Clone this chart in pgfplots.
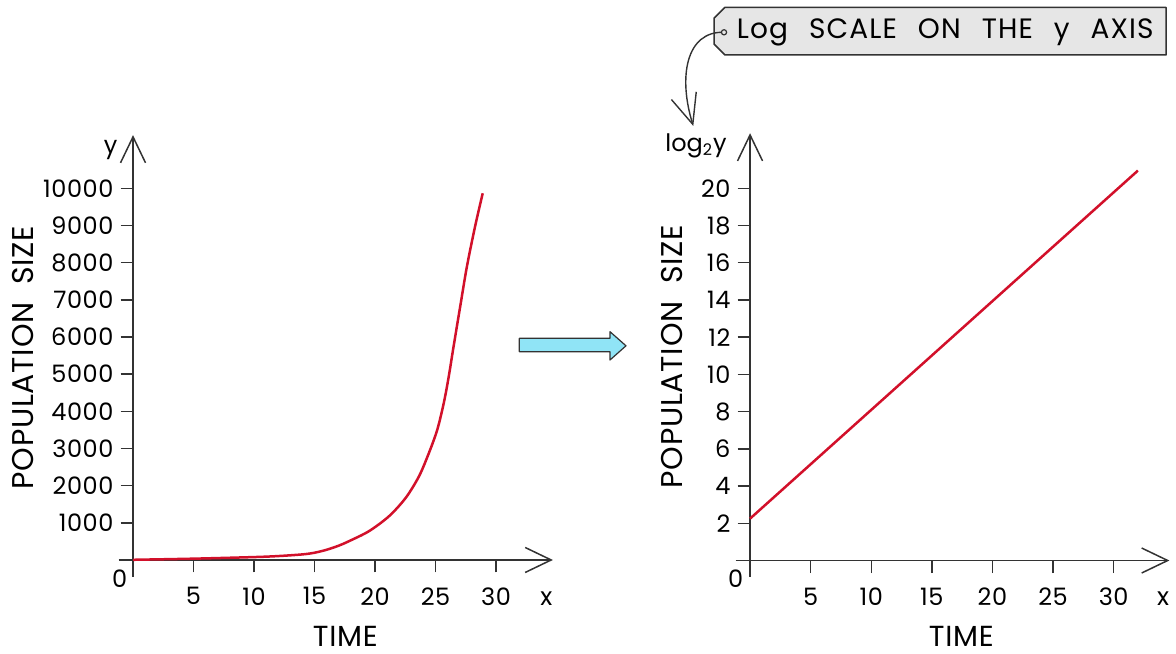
\documentclass[border=0pt]{standalone}
\usepackage{fontspec}
\setmainfont{Poppins}
\newfontfamily\wideA{Poppins}[LetterSpace=4]
\newfontfamily\wideB{Poppins}[LetterSpace=2.5]
\usepackage{pgfplots}
\pgfplotsset{compat=1.18}
\usetikzlibrary{arrows.meta}
\definecolor{axisgray}{HTML}{333333}
\definecolor{curvered}{HTML}{D2102A}
\definecolor{arrowblue}{HTML}{90E4F6}
\definecolor{boxgray}{HTML}{E6E6E6}
\pgfplotsset{
 myaxis/.style={
  scale only axis,
  axis lines=middle,
  axis line style={draw=axisgray, line width=0.75pt, -{Straight Barb[length=13pt,width=12.5pt,line width=0.75pt]}},
  tick style={draw=axisgray, line width=0.75pt},
  tick align=outside,
  major tick length=6.25pt,
  tick label style={font=\wideB\fontsize{12}{14}\selectfont, text=black},
  xticklabel style={yshift=-4pt},
  /pgf/number format/assume math mode=true,
  /pgf/number format/1000 sep={},
  scaled ticks=false,
  clip=false,
  anchor=south west,
 }
}
\begin{document}
\begin{tikzpicture}
\useasboundingbox (0,0) rectangle (588pt,326.5pt);
% left panel
\begin{axis}[myaxis, at={(59.25pt,38.15pt)}, width=217.2pt, height=220.8pt,
  xmin=-1.2, xmax=34.7, ymin=-450, ymax=11430,
  xtick={5,10,15,20,25,30}, ytick={1000,2000,3000,4000,5000,6000,7000,8000,9000,10000}]
\addplot[curvered, line width=1.25pt, smooth, tension=0.5] coordinates {
(0,5)(5,35)(10,78)(12,105)(14,150)(15,195)(16,275)(17,385)(17.85,506)(19.5,775)(21.16,1178)(22.54,1673)(23.64,2255)(24.46,2884)(25.15,3511)(25.7,4250)(26.1,4950)(26.47,5700)(27.02,6780)(27.58,7870)(28.26,8960)(28.9,9865)};
\end{axis}
% right panel
\begin{axis}[myaxis, at={(367.75pt,38.15pt)}, width=216.95pt, height=221.75pt,
  xmin=-1.2, xmax=34.6, ymin=-0.87, ymax=22.96,
  xtick={5,10,15,20,25,30}, ytick={2,4,6,8,10,12,14,16,18,20}]
\addplot[curvered, line width=1.25pt] coordinates {(0,2.25)(16,11.6)(32,20.95)};
\end{axis}
% labels left
\node[font=\fontsize{12}{14}\selectfont] at (55.35pt,251.5pt) {y};
\node[font=\wideB\fontsize{12}{14}\selectfont] at (59.8pt,37.35pt) {0};
\node[font=\fontsize{12.5}{14}\selectfont] at (273.2pt,27.35pt) {x};
\node[font=\wideB\fontsize{14.5}{16}\selectfont, anchor=base, inner sep=0pt] at (172.7pt,3.2pt) {TIME};
\node[font=\wideB\fontsize{15}{17}\selectfont, rotate=90] at (11.5pt,147.75pt) {POPULATION\hspace{0.6em}SIZE};
% labels right
\node[font=\fontsize{12}{14}\selectfont] at (348pt,253.5pt) {log\textsubscript{2}y};
\node[font=\wideB\fontsize{12}{14}\selectfont] at (367.85pt,37.35pt) {0};
\node[font=\fontsize{12.5}{14}\selectfont] at (581.5pt,27.35pt) {x};
\node[font=\wideB\fontsize{14.5}{16}\selectfont, anchor=base, inner sep=0pt] at (480.7pt,3.2pt) {TIME};
\node[font=\wideB\fontsize{15}{17}\selectfont, rotate=90] at (336.25pt,148.25pt) {POPULATION\hspace{0.6em}SIZE};
% blue arrow
\draw[fill=arrowblue, draw=axisgray, line width=0.6pt, line join=round]
  (259.65pt,157.35pt) -- (305pt,157.35pt) -- (305pt,160.65pt) -- (313pt,153.6pt)
  -- (305pt,146.5pt) -- (305pt,150.65pt) -- (259.65pt,150.65pt) -- cycle;
% callout
\draw[fill=boxgray, draw=axisgray, line width=0.75pt, line join=round]
  (357pt,317.35pt) -- (362.5pt,322.85pt) -- (583pt,322.85pt) -- (583pt,299pt)
  -- (362.5pt,299pt) -- (357pt,304.5pt) -- cycle;
\node[anchor=west, inner sep=0pt, font=\wideA\fontsize{14}{16}\selectfont] at (368.25pt,310.5pt)
  {Log\hspace{0.75em}SCALE\hspace{0.75em}ON\hspace{0.75em}THE\hspace{0.75em}y\hspace{0.75em}AXIS};
\draw[axisgray, line width=0.7pt, -{Straight Barb[length=15pt,width=13pt,line width=0.7pt]}]
  (362pt,310.35pt) .. controls (343pt,311pt) and (339pt,288pt) .. (346.65pt,263.5pt);
\draw[axisgray, line width=0.6pt, fill=boxgray] (362pt,310.35pt) circle (1.3pt);
\end{tikzpicture}
\end{document}
